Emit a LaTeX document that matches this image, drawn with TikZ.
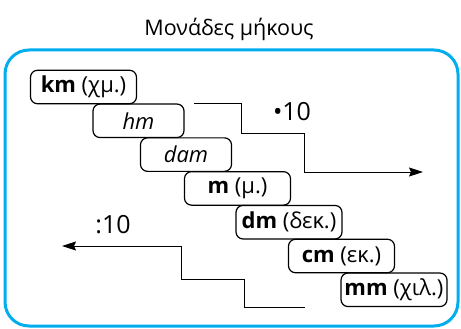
\documentclass[tikz,border=0pt]{standalone}
\usepackage{fontspec}
\setmainfont{Open Sans}
\usepackage{tikz}
\usetikzlibrary{arrows.meta}
\definecolor{framecyan}{RGB}{0,174,239}
\tikzstyle{unit} = [rectangle, rounded corners=7pt, minimum width=106pt, minimum height=33.5pt, inner sep=0pt, text centered, draw=black, line width=1.2pt, font=\fontsize{22}{22}\selectfont]
\tikzstyle{smallunit} = [unit, minimum width=91pt]
\tikzstyle{steparrow} = [line width=0.9pt, -{Stealth[length=14pt,width=9pt,inset=2pt]}]
\tikzstyle{factor} = [font=\fontsize{25}{25}\selectfont]

\begin{document}
\begin{tikzpicture}
				[x=1pt, y=-1pt, node distance=33.8pt]
				\useasboundingbox (0,0) rectangle (461,329);

				\node (title) [font=\fontsize{21.5}{21.5}\selectfont] at (229,29) {Μονάδες μήκους};
				\draw [framecyan, line width=3pt, rounded corners=24pt] (5,50) rectangle (458,326);

				\node (km) [unit] at (83.5,87) {\textbf{km} (χμ.)};
				\node (hm) [smallunit, below of = km, xshift = 55pt] {\textit{hm}};
				\node (dam) [smallunit, below of = hm, xshift = 47.5pt] {\textit{dam}};
				\node (m) [unit, below of = dam, xshift = 51.5pt] {\textbf{m} (μ.)};
				\node (dm) [unit, below of = m, xshift = 51.5pt] {\textbf{dm} (δεκ.)};
				\node (cm) [unit, below of = dm, xshift = 52.5pt] {\textbf{cm} (εκ.)};
				\node (mm) [unit, below of = cm, xshift = 52.5pt] {\textbf{mm} (χιλ.)};

				\coordinate (mulstart) at (194,103);
				\coordinate (mulend) at (423,172);
				\coordinate (divstart) at (305,307);
				\coordinate (divend) at (62,246);

				\draw [steparrow] (mulstart) -| (241,133) -| (304,172) -- (mulend);
				\draw [steparrow] (divstart) -| (244,279) -| (181,246) -- (divend);

				\node (times) [factor] at (292,112) {\textbullet10};
				\node (divide) [factor] at (113,225) {:10};
			\end{tikzpicture}
\end{document}
